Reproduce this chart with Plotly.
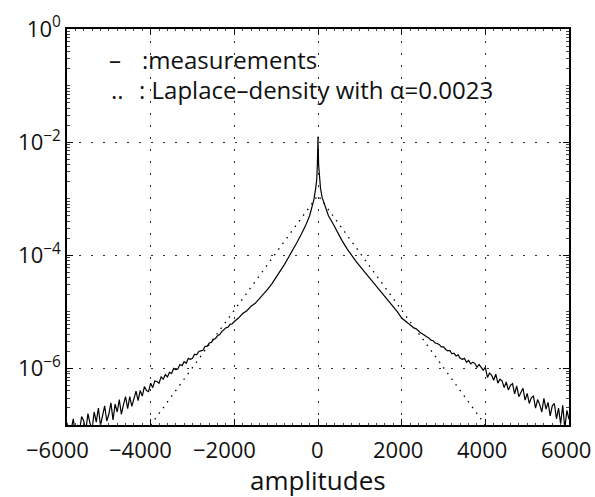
import plotly.graph_objects as go

# ---------------- data ----------------
# measured density, stored as log10 values
left_tail_x = list(range(-6000, -1950, 50))
left_tail_log10 = [
    -6.96, -7.17, -7.08, -6.89, -7.16, -7.00, -7.10, -6.85, -6.93, -7.10,
    -6.80, -6.97, -7.07, -6.77, -6.95, -6.70, -7.01, -6.80, -6.66, -6.93,
    -6.81, -6.61, -6.91, -6.63, -6.77, -6.55, -6.81, -6.64, -6.50, -6.71,
    -6.50, -6.67, -6.51, -6.40, -6.57, -6.39, -6.49, -6.32, -6.39, -6.41,
    -6.26, -6.34, -6.22, -6.23, -6.26, -6.15, -6.19, -6.11, -6.15, -6.07,
    -6.09, -6.00, -6.02, -6.01, -5.93, -5.95, -5.88, -5.91, -5.82, -5.84,
    -5.82, -5.75, -5.76, -5.70, -5.69, -5.68, -5.61, -5.61, -5.55, -5.54,
    -5.49, -5.47, -5.42, -5.40, -5.35, -5.32, -5.28, -5.27, -5.22, -5.21,
    -5.17,
]
center_x = [-1900, -1800, -1700, -1600, -1500, -1400, -1300, -1200, -1100, -1000,
            -900, -800, -700, -600, -500, -400, -300, -200, -150, -100,
            -60, -30, -15, -5, 0, 5, 15, 30, 60, 100, 175, 250, 350, 450, 575,
            700, 800, 900, 1000, 1100, 1200, 1300, 1400, 1500, 1600,
            1700, 1800, 1900]
center_log10 = [-5.11, -5.03, -4.98, -4.90, -4.85, -4.77, -4.69, -4.60, -4.50, -4.39,
                -4.28, -4.16, -4.03, -3.91, -3.77, -3.63, -3.48, -3.30, -3.17, -3.02,
                -2.84, -2.66, -2.40, -2.10, -1.90, -2.10, -2.40, -2.62, -2.82, -2.98,
                -3.15, -3.30, -3.43, -3.57, -3.74,
                -3.89, -4.00, -4.10, -4.19, -4.28, -4.37, -4.46, -4.55, -4.63, -4.74,
                -4.81, -4.92, -5.00]
right_tail_x = list(range(2000, 6050, 50))
right_tail_log10 = [
    -5.11, -5.14, -5.16, -5.20, -5.22, -5.25, -5.29, -5.30, -5.34, -5.37,
    -5.39, -5.42, -5.44, -5.46, -5.50, -5.51, -5.55, -5.56, -5.58, -5.62,
    -5.62, -5.66, -5.69, -5.68, -5.74, -5.73, -5.78, -5.76, -5.82, -5.84,
    -5.82, -5.89, -5.86, -5.92, -5.89, -5.91, -5.98, -5.93, -5.99, -6.03,
    -5.98, -6.16, -6.08, -6.12, -6.21, -6.10, -6.26, -6.19, -6.22, -6.34,
    -6.24, -6.38, -6.30, -6.27, -6.45, -6.31, -6.50, -6.42, -6.35, -6.56,
    -6.44, -6.62, -6.52, -6.49, -6.70, -6.55, -6.64, -6.77, -6.53, -6.72,
    -6.60, -6.84, -6.66, -6.62, -6.89, -6.70, -6.98, -6.65, -7.06, -6.74,
    -6.90,
]

# Laplace density with alpha = 0.0023 (straight on the log axis)
laplace_x = [-4000, 0, 4000]
laplace_density = [1.0e-7, 1.15e-3, 1.0e-7]

x_tick_values = [-6000, -4000, -2000, 0, 2000, 4000, 6000]
x_tick_labels = ["\u22126000", "\u22124000", "\u22122000", "0", "2000", "4000", "6000"]
y_tick_values = [1, 1e-2, 1e-4, 1e-6]
y_tick_labels = ["10<sup>0</sup>", "10<sup>\u22122</sup>", "10<sup>\u22124</sup>", "10<sup>\u22126</sup>"]

# ---------------- figure ----------------
meas_x = left_tail_x + center_x + right_tail_x
meas_y = [10 ** v for v in left_tail_log10 + center_log10 + right_tail_log10]

FONT = "Open Sans"
fig = go.Figure()
fig.add_trace(go.Scatter(x=laplace_x, y=laplace_density, mode="lines",
                         line=dict(color="black", width=1.3, dash="1.5px,5.5px"),
                         hoverinfo="skip", showlegend=False))
fig.add_trace(go.Scatter(x=meas_x, y=meas_y, mode="lines",
                         line=dict(color="black", width=1.2),
                         hoverinfo="skip", showlegend=False))

minor_y = [k * 10.0 ** e for e in range(-7, 0) for k in range(2, 10)] + [1e-1, 1e-3, 1e-5]

fig.update_layout(
    width=595, height=497,
    margin=dict(l=67, r=26, t=29, b=72, autoexpand=False),
    paper_bgcolor="white", plot_bgcolor="white",
    font=dict(family=FONT, size=22, color="#111"),
    xaxis=dict(range=[-6000, 6000], tickvals=x_tick_values, ticktext=x_tick_labels,
               showticklabels=False,
               ticks="inside", ticklen=6, tickwidth=1, tickcolor="black",
               showline=True, linecolor="black", linewidth=1.5, mirror="ticks",
               showgrid=True, gridcolor="#333", gridwidth=1, griddash="1.5px,10.5px",
               zeroline=False, automargin=False,
               minor=dict(dtick=200, ticks="inside", ticklen=2, tickcolor="#444", showgrid=False)),
    yaxis=dict(type="log", range=[-7, 0], tickvals=y_tick_values, ticktext=y_tick_labels,
               ticks="inside", ticklen=6, tickwidth=1, tickcolor="black",
               showline=True, linecolor="black", linewidth=1.5, mirror="ticks",
               showgrid=True, gridcolor="#333", gridwidth=1, griddash="1.5px,10.5px",
               zeroline=False, automargin=False,
               minor=dict(tickvals=minor_y, ticks="inside", ticklen=3, tickcolor="#444", showgrid=False)),
)

# x tick labels (placed on the x scale; the reference's labels sit a little left of their ticks)
for v, t in zip(x_tick_values, x_tick_labels):
    shift = -10 if t.startswith("\u2212") else (-1 if t == "0" else -3.5)
    fig.add_annotation(text=t, xref="x", yref="paper", x=v, y=0,
                       xanchor="center", yanchor="middle", xshift=shift, yshift=-24,
                       showarrow=False, font=dict(size=22), borderpad=0)

# axis title
fig.add_annotation(text="amplitudes", xref="paper", yref="paper", x=0.5, y=0,
                   xanchor="center", yanchor="middle", yshift=-55,
                   showarrow=False, font=dict(size=26), borderpad=0)

legend_lines = [
    ("\u2013", 108, ":measurements", 141, 0.924),
    ("..", 110, ": Laplace\u2013density with \u03b1=0.0023", 138, 0.846),
]
for sym, sx, txt, tx, yy in legend_lines:
    fig.add_annotation(text=sym, xref="paper", yref="paper",
                       x=(sx - 67) / 502, y=yy, xanchor="left", yanchor="middle",
                       showarrow=False, font=dict(size=24), borderpad=0)
    fig.add_annotation(text=txt, xref="paper", yref="paper",
                       x=(tx - 67) / 502, y=yy, xanchor="left", yanchor="middle",
                       showarrow=False, font=dict(size=24), borderpad=0)

fig.write_html("out.html", config={"displayModeBar": False},
               post_script="document.body.style.margin='0';")
